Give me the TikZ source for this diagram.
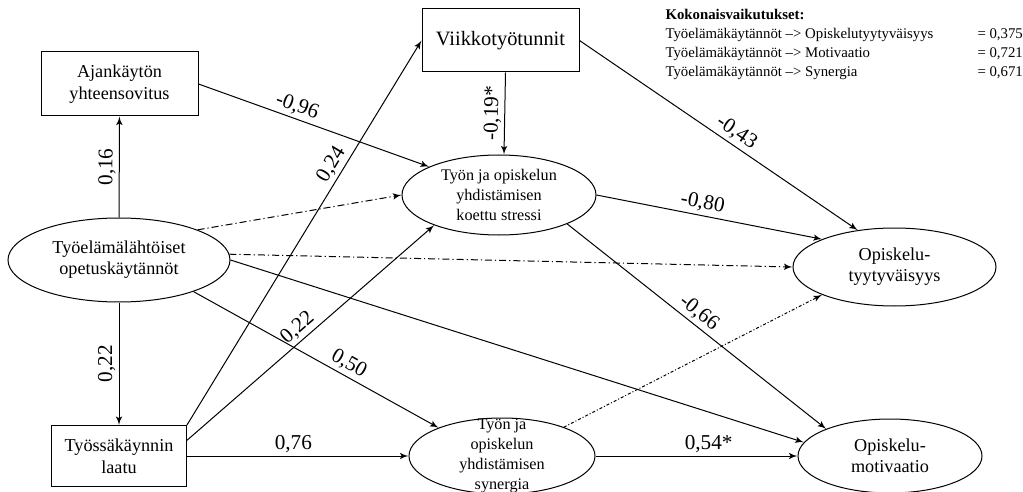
\documentclass[tikz,border=0pt]{standalone}
\usepackage{fontspec}
\setmainfont{Liberation Serif}
\usetikzlibrary{arrows}
\usetikzlibrary{shapes.geometric}

\tikzset{
  box node/.style={rectangle,draw,inner sep=0pt,align=center,font=\fontsize{9.1}{11}\selectfont},
  lat node/.style={ellipse,draw,inner sep=0pt,align=center,font=\fontsize{9.1}{10.5}\selectfont},
  mid node/.style={lat node,font=\fontsize{8.1}{10}\selectfont},
  coef/.style={font=\fontsize{10.6}{12}\selectfont,inner sep=1.5pt},
  indirect line/.style={dash pattern=on 3.5pt off 1.5pt on 0.6pt off 1.5pt},
  weak line/.style={dash pattern=on 1.5pt off 1pt on 0.5pt off 1pt}
}

\begin{document}
\begin{tikzpicture}[x=0.5pt,y=-0.5pt,->,>=latex',line width=0.5pt]
  \useasboundingbox (0,0) rectangle (1023,492);

  \node[box node,minimum width=78.5pt,minimum height=32pt] (ajank) at (119.5,84) {Ajankäytön\\yhteensovitus};
  \node[box node,minimum width=78.5pt,minimum height=31.5pt,font=\fontsize{10.2}{12}\selectfont] (viikko) at (500.5,40.5) {Viikkotyötunnit};
  \node[box node,minimum width=67.5pt,minimum height=30.5pt] (tyoss) at (119,456) {Työssäkäynnin\\laatu};
  \node[lat node,minimum width=111pt,minimum height=42pt] (tyoel) at (119,260) {Työelämälähtöiset\\opetuskäytännöt};
  \node[mid node,minimum width=97pt,minimum height=40pt] (stress) at (499,195) {Työn ja opiskelun\\yhdistämisen\\koettu stressi};
  \node[mid node,minimum width=93pt,minimum height=38pt,inner ysep=-6pt] (syn) at (502,456) {Työn ja\\opiskelun\\yhdistämisen\\synergia};
  \node[lat node,minimum width=101.5pt,minimum height=39pt] (tyyt) at (894.5,267) {Opiskelu-\\tyytyväisyys};
  \node[lat node,minimum width=92pt,minimum height=37pt] (motiv) at (890,456) {Opiskelu-\\motivaatio};

  \node[anchor=north west,inner sep=0pt,font=\fontsize{7.4}{9.5}\selectfont] (koko) at (665,6) {%
    \begin{tabular}{@{}p{156pt}@{}l@{}}
      \multicolumn{2}{@{}l@{}}{\textbf{Kokonaisvaikutukset:}}\\
      Työelämäkäytännöt –> Opiskelutyytyväisyys & = 0,375\\
      Työelämäkäytännöt –> Motivaatio & = 0,721\\
      Työelämäkäytännöt –> Synergia & = 0,671
    \end{tabular}};

  \path[every node/.style={coef}]
    (tyoel) edge node[sloped,above] {0,16} (ajank)
    (tyoss) edge[<-] node[sloped,above] {0,22} (tyoel)
    ([xshift=2.5pt]stress.north) edge[<-] node[sloped,above] {-0,19*} ([xshift=2.5pt]viikko.south)
    (ajank.east) edge node[sloped,above,pos=.41] {-0,96} (stress.158)
    (tyoss.north east) edge node[sloped,above,pos=.66] {0,24} (viikko.west)
    (tyoss.13) edge node[sloped,above,pos=.48] {0,22} (stress.205)
    (tyoel.-23) edge node[sloped,above,pos=.61] {0,50} (syn.156)
    (tyoss) edge node[above,pos=.48] {0,76} (syn)
    (tyoel.east) edge (motiv.171)
    (tyoel.21) edge[indirect line] (stress.west)
    (tyoel.3) edge[indirect line] (tyyt.west)
    (viikko.east) edge node[sloped,above,pos=.54] {-0,43} (tyyt.135)
    (stress.east) edge node[sloped,above,pos=.46] {-0,80} (tyyt.159)
    (stress.-23) edge node[sloped,above,pos=.48] {-0,66} (motiv.157)
    (syn.25) edge[weak line] (tyyt.201)
    (syn) edge node[above,pos=.56] {0,54*} (motiv);
\end{tikzpicture}
\end{document}
